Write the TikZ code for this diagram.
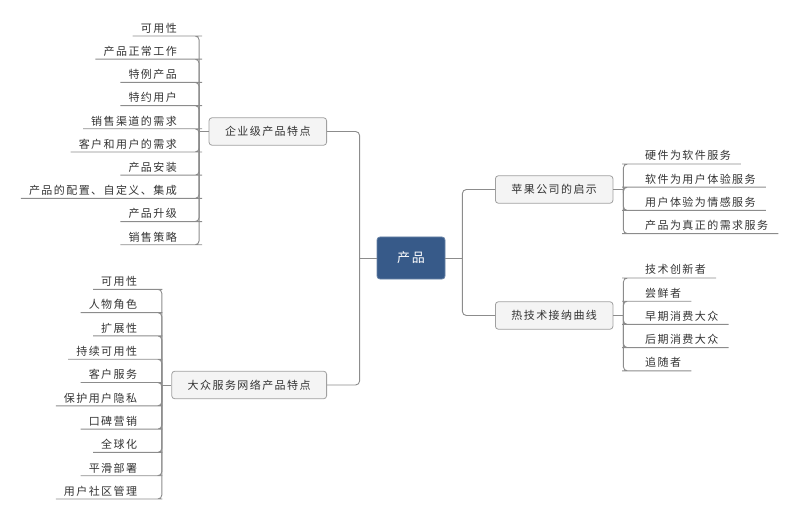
\documentclass[tikz,border=0pt]{standalone}
\usepackage{fontspec}
\setmainfont{Noto Sans CJK SC}[LetterSpace=13]
\usepackage{tikz}
\usetikzlibrary{positioning}
\definecolor{rootblue}{HTML}{375A89}
\definecolor{linegray}{HTML}{8C8C8C}
\definecolor{boxgray}{HTML}{F4F4F4}
\definecolor{boxline}{HTML}{A0A0A0}
\definecolor{textgray}{HTML}{333333}

\begin{document}
\begin{tikzpicture}
    [
    x=1pt, y=-1pt,
    font=\fontsize{11}{13}\selectfont,
    root/.style = {draw=rootblue!75!white, fill=rootblue, rounded corners=3pt, text=white, font=\fontsize{13}{15}\selectfont, minimum width=68pt, minimum height=42pt, line width=0.8pt},
    box/.style = {draw=boxline, fill=boxgray, rounded corners=3pt, text=textgray, inner xsep=16pt, minimum height=27.5pt, line width=0.8pt},
    leafL/.style = {anchor=south east, inner xsep=0pt, inner ysep=2.5pt, text=textgray},
    leafR/.style = {anchor=south west, inner xsep=0pt, inner ysep=3pt, text=textgray},
    link/.style = {draw=linegray, line width=0.9pt, rounded corners=4pt}
    ]
    \useasboundingbox (0,0) rectangle (800,529);

% Nodes
    \node[root] (root) at (411,258) {产品};
    \node[box, anchor=east] (ent) at (327,131.5) {企业级产品特点};
    \node[box, anchor=east] (mass) at (327,385) {大众服务网络产品特点};
    \node[box, anchor=west] (apple) at (495,189.5) {苹果公司的启示};
    \node[box, anchor=west] (hot) at (495,315.5) {热技术接纳曲线};

% Junctions
    \coordinate (rootL) at ([xshift=-17pt]root.west);
    \coordinate (rootR) at ([xshift=17pt]root.east);
    \coordinate (entJ) at ([xshift=-9.5pt]ent.west);
    \coordinate (massJ) at ([xshift=-9.5pt]mass.west);
    \coordinate (appleJ) at ([xshift=10pt]apple.east);
    \coordinate (hotJ) at ([xshift=10pt]hot.east);

% Leaves
    \node[leafL] (e1) at (177,36) {可用性};
    \node[leafL] (e2) at (177,59.2) {产品正常工作};
    \node[leafL] (e3) at (177,82.4) {特例产品};
    \node[leafL] (e4) at (177,105.6) {特约用户};
    \node[leafL] (e5) at (177,128.8) {销售渠道的需求};
    \node[leafL] (e6) at (177,152) {客户和用户的需求};
    \node[leafL] (e7) at (177,175.2) {产品安装};
    \node[leafL] (e8) at (177,198.4) {产品的配置、自定义、集成};
    \node[leafL] (e9) at (177,221.6) {产品升级};
    \node[leafL] (e10) at (177,244.8) {销售策略};

    \node[leafL] (m1) at (137.3,289.3) {可用性};
    \node[leafL] (m2) at (137.3,312.6) {人物角色};
    \node[leafL] (m3) at (137.3,335.9) {扩展性};
    \node[leafL] (m4) at (137.3,359.2) {持续可用性};
    \node[leafL] (m5) at (137.3,382.5) {客户服务};
    \node[leafL] (m6) at (137.3,405.8) {保护用户隐私};
    \node[leafL] (m7) at (137.3,429.1) {口碑营销};
    \node[leafL] (m8) at (137.3,452.4) {全球化};
    \node[leafL] (m9) at (137.3,475.7) {平滑部署};
    \node[leafL] (m10) at (137.3,499) {用户社区管理};

    \node[leafR] (a1) at (645,164) {硬件为软件服务};
    \node[leafR] (a2) at (645,187.2) {软件为用户体验服务};
    \node[leafR] (a3) at (645,210.4) {用户体验为情感服务};
    \node[leafR] (a4) at (645,233.6) {产品为真正的需求服务};

    \node[leafR] (h1) at (645,278) {技术创新者};
    \node[leafR] (h2) at (645,301.2) {尝鲜者};
    \node[leafR] (h3) at (645,324.4) {早期消费大众};
    \node[leafR] (h4) at (645,347.6) {后期消费大众};
    \node[leafR] (h5) at (645,370.8) {追随者};

% Links
    \draw[link] (root.west) -- (rootL);
    \draw[link] (root.east) -- (rootR);
    \draw[link] (rootL) |- (ent.east);
    \draw[link] (rootL) |- (mass.east);
    \draw[link] (rootR) |- (apple.west);
    \draw[link] (rootR) |- (hot.west);

    \draw[link] (ent.west) -- (entJ);
    \draw[link] (entJ) |- ([xshift=21pt]e1.south east) -- ([xshift=-8pt]e1.south west);
    \draw[link] (entJ) |- ([xshift=21pt]e2.south east) -- ([xshift=-8pt]e2.south west);
    \draw[link] (entJ) |- ([xshift=21pt]e3.south east) -- ([xshift=-8pt]e3.south west);
    \draw[link] (entJ) |- ([xshift=21pt]e4.south east) -- ([xshift=-8pt]e4.south west);
    \draw[link] (entJ) |- ([xshift=21pt]e5.south east) -- ([xshift=-8pt]e5.south west);
    \draw[link] (entJ) |- ([xshift=21pt]e6.south east) -- ([xshift=-8pt]e6.south west);
    \draw[link] (entJ) |- ([xshift=21pt]e7.south east) -- ([xshift=-8pt]e7.south west);
    \draw[link] (entJ) |- ([xshift=21pt]e8.south east) -- ([xshift=-8pt]e8.south west);
    \draw[link] (entJ) |- ([xshift=21pt]e9.south east) -- ([xshift=-8pt]e9.south west);
    \draw[link] (entJ) |- ([xshift=21pt]e10.south east) -- ([xshift=-8pt]e10.south west);

    \draw[link] (mass.west) -- (massJ);
    \draw[link] (massJ) |- ([xshift=21pt]m1.south east) -- ([xshift=-8pt]m1.south west);
    \draw[link] (massJ) |- ([xshift=21pt]m2.south east) -- ([xshift=-8pt]m2.south west);
    \draw[link] (massJ) |- ([xshift=21pt]m3.south east) -- ([xshift=-8pt]m3.south west);
    \draw[link] (massJ) |- ([xshift=21pt]m4.south east) -- ([xshift=-8pt]m4.south west);
    \draw[link] (massJ) |- ([xshift=21pt]m5.south east) -- ([xshift=-8pt]m5.south west);
    \draw[link] (massJ) |- ([xshift=21pt]m6.south east) -- ([xshift=-8pt]m6.south west);
    \draw[link] (massJ) |- ([xshift=21pt]m7.south east) -- ([xshift=-8pt]m7.south west);
    \draw[link] (massJ) |- ([xshift=21pt]m8.south east) -- ([xshift=-8pt]m8.south west);
    \draw[link] (massJ) |- ([xshift=21pt]m9.south east) -- ([xshift=-8pt]m9.south west);
    \draw[link] (massJ) |- ([xshift=21pt]m10.south east) -- ([xshift=-8pt]m10.south west);

    \draw[link] (apple.east) -- (appleJ);
    \draw[link] (appleJ) |- ([xshift=-19pt]a1.south west) -- ([xshift=10pt]a1.south east);
    \draw[link] (appleJ) |- ([xshift=-19pt]a2.south west) -- ([xshift=10pt]a2.south east);
    \draw[link] (appleJ) |- ([xshift=-19pt]a3.south west) -- ([xshift=10pt]a3.south east);
    \draw[link] (appleJ) |- ([xshift=-19pt]a4.south west) -- ([xshift=10pt]a4.south east);

    \draw[link] (hot.east) -- (hotJ);
    \draw[link] (hotJ) |- ([xshift=-19pt]h1.south west) -- ([xshift=10pt]h1.south east);
    \draw[link] (hotJ) |- ([xshift=-19pt]h2.south west) -- ([xshift=10pt]h2.south east);
    \draw[link] (hotJ) |- ([xshift=-19pt]h3.south west) -- ([xshift=10pt]h3.south east);
    \draw[link] (hotJ) |- ([xshift=-19pt]h4.south west) -- ([xshift=10pt]h4.south east);
    \draw[link] (hotJ) |- ([xshift=-19pt]h5.south west) -- ([xshift=10pt]h5.south east);

\end{tikzpicture}
\end{document}
